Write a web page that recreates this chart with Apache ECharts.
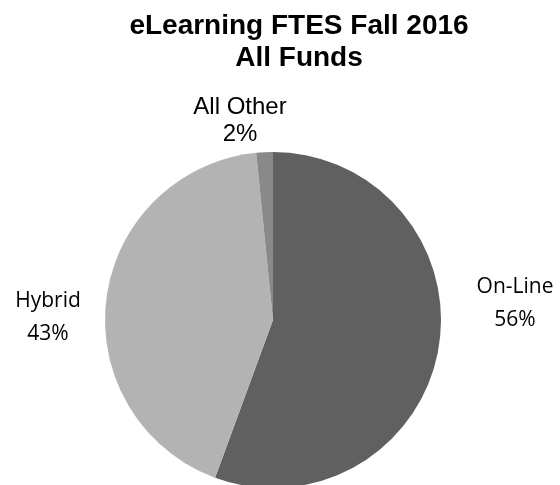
<!DOCTYPE html>
<html>
<head>
<meta charset="utf-8">
<script src="https://cdn.jsdelivr.net/npm/echarts@6/dist/echarts.min.js"></script>
<style>
  html, body { margin: 0; padding: 0; background: #fff; }
  #chart { width: 560px; height: 485px; }
</style>
</head>
<body>
<div id="chart"></div>
<script>
// eLearning FTES, Fall 2016, share by delivery mode
var categories = ['On-Line', 'Hybrid', 'All Other'];
var shares = [55.6, 42.8, 1.6];
var sliceColors = ['#606060', '#b3b3b3', '#898989'];

var total = shares.reduce(function (a, b) { return a + b; }, 0);

// where each label block is centred (Excel puts them by hand, more or less)
var labelSpots = [[515, 304], [48, 318], [240, 121]];

var calibriLike = { fontFamily: 'Open Sans', fontSize: 21, lineHeight: 33 };
var arialLike = { fontFamily: 'Liberation Sans, Arial', fontSize: 24, lineHeight: 27 };

var pieData = categories.map(function (name, i) {
  var font = name === 'All Other' ? arialLike : calibriLike;
  return {
    name: name,
    value: shares[i],
    itemStyle: { color: sliceColors[i] },
    label: {
      fontFamily: font.fontFamily,
      fontSize: font.fontSize,
      lineHeight: font.lineHeight
    }
  };
});

var mychart = echarts.init(document.getElementById('chart'));
mychart.setOption({
  animation: false,
  backgroundColor: '#fff',
  title: {
    text: 'eLearning FTES Fall 2016\nAll Funds',
    left: 294,
    top: 5,
    textAlign: 'center',
    textStyle: {
      fontFamily: 'Liberation Sans, Arial',
      fontWeight: 'bold',
      fontSize: 28,
      lineHeight: 32,
      color: '#000'
    }
  },
  series: [{
    type: 'pie',
    center: [273, 320],
    radius: 168,
    startAngle: 90,
    clockwise: true,
    itemStyle: { borderWidth: 0 },
    label: {
      show: true,
      position: 'outside',
      color: '#000',
      align: 'center',
      overflow: 'none',
      formatter: function (p) {
        return p.name + '\n' + Math.round(p.value / total * 100) + '%';
      }
    },
    labelLine: { show: false },
    labelLayout: function (params) {
      var spot = labelSpots[params.dataIndex];
      return { x: spot[0], y: spot[1], align: 'center', verticalAlign: 'middle' };
    },
    emphasis: { disabled: true },
    data: pieData
  }]
});
</script>
</body>
</html>
